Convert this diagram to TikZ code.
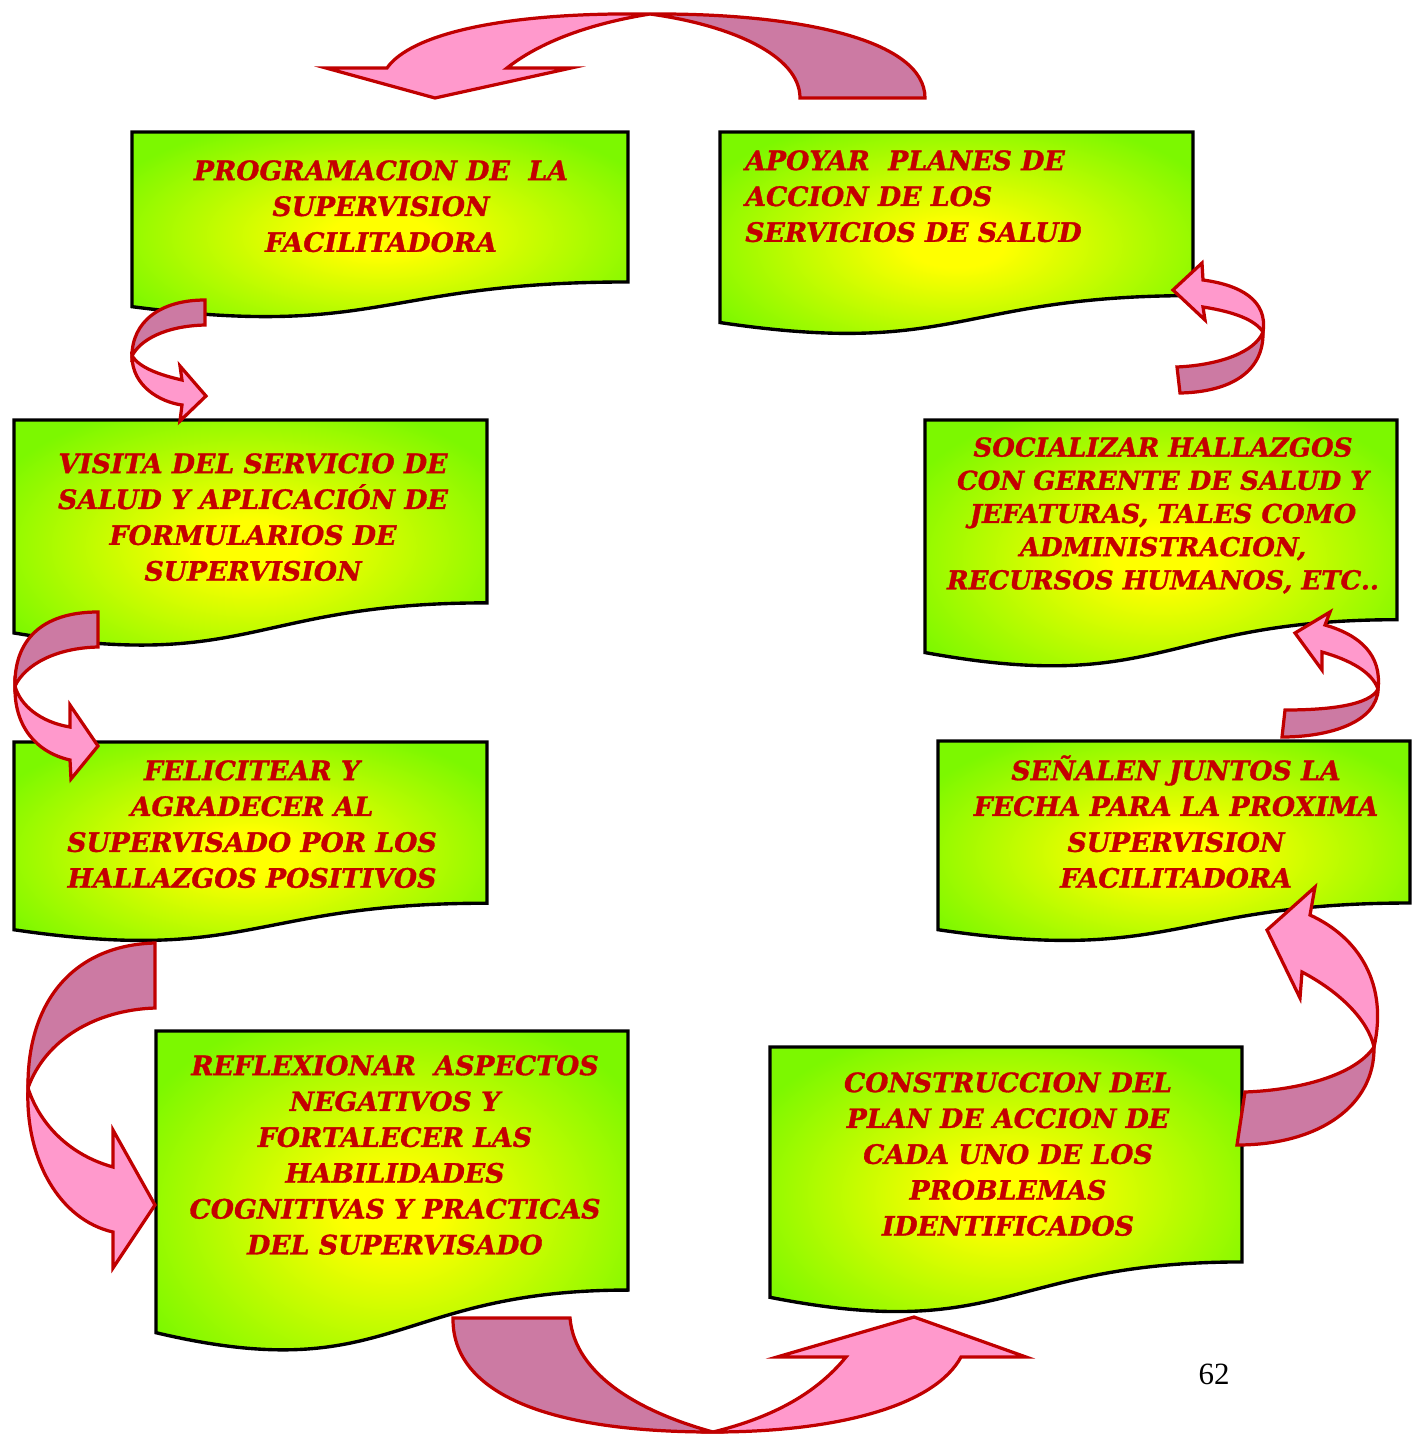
\documentclass[tikz,border=0pt]{standalone}
\usepackage{fontspec}
\newfontfamily\boxfont{DejaVu Serif}[BoldItalicFeatures={FakeBold=1.2}]
\newfontfamily\numfont{Liberation Serif}

\definecolor{docyellow}{RGB}{255,255,0}
\definecolor{docgreen}{RGB}{124,248,0}
\definecolor{textred}{RGB}{196,0,0}
\definecolor{arrowpink}{RGB}{255,153,204}
\definecolor{arrowmauve}{RGB}{204,122,163}
\definecolor{arrowline}{RGB}{192,0,0}

% yellow glow in the middle of each document box, fading to green
\pgfdeclareradialshading{docglow}{\pgfpoint{0bp}{0bp}}{%
  color(0bp)=(docyellow); color(5bp)=(docyellow);
  color(30bp)=(docgreen); color(50bp)=(docgreen)}

\tikzset{
  docbox/.style={draw=black, line width=2.4pt, line join=miter, shade, shading=docglow},
  boxtext/.style={inner sep=0pt, align=center, text=textred,
    font=\boxfont\bfseries\itshape\fontsize{19}{25.5}\selectfont},
  boxtexttight/.style={boxtext, font=\boxfont\bfseries\itshape\fontsize{18.5}{23.6}\selectfont},
  arrowback/.style={draw=arrowline, line width=2.3pt, line join=miter, fill=arrowmauve},
  arrowfront/.style={draw=arrowline, line width=2.3pt, line join=miter, fill=arrowpink},
}

% flowchart "document" shape: left x, top y, width, height
\newcommand\flowdoc[4]{%
  \pgfmathsetmacro\fdR{#1+#3}%
  \pgfmathsetmacro\fdM{#1+0.5*#3}%
  \pgfmathsetmacro\fdA{#2+0.802*#4}%
  \pgfmathsetmacro\fdB{#2+1.107*#4}%
  \pgfmathsetmacro\fdC{#2+0.934*#4}%
  \path[docbox] (#1,#2) -- (\fdR,#2) -- (\fdR,\fdA)
    .. controls (\fdM,\fdA) and (\fdM,\fdB) .. (#1,\fdC) -- cycle;}

\begin{document}
\begin{tikzpicture}[x=0.025cm,y=-0.025cm]
\useasboundingbox (0,0) rectangle (1419,1434);

% ---------- document boxes ----------
\flowdoc{132}{132}{496}{187}
\flowdoc{720}{132}{473}{204}
\flowdoc{14}{420}{473}{228}
\flowdoc{925}{420}{472}{249}
\flowdoc{14}{742}{473}{201}
\flowdoc{938}{741}{472}{202}
\flowdoc{156}{1031}{472}{323}
\flowdoc{770}{1047}{472}{268}

% ---------- box texts ----------
\node[boxtext, anchor=north] (t1) at (381,160)
  {PROGRAMACION DE\ \ LA\\SUPERVISION\\FACILITADORA};
\node[boxtext, align=left, anchor=north west] (t2) at (745,150)
  {APOYAR\ \ PLANES DE\\ACCION DE LOS\\SERVICIOS DE SALUD};
\node[boxtext, anchor=north] (t3) at (253,453)
  {VISITA DEL SERVICIO DE\\SALUD Y APLICACIÓN DE\\FORMULARIOS DE\\SUPERVISION};
\node[boxtexttight, anchor=north] (t4) at (1163,437)
  {SOCIALIZAR HALLAZGOS\\CON GERENTE DE SALUD Y\\JEFATURAS, TALES COMO\\ADMINISTRACION,\\RECURSOS HUMANOS, ETC..};
\node[boxtext, anchor=north] (t5) at (252,760)
  {FELICITEAR Y\\AGRADECER AL\\SUPERVISADO POR LOS\\HALLAZGOS POSITIVOS};
\node[boxtext, anchor=north] (t6) at (1176,755)
  {SEÑALEN JUNTOS LA\\FECHA PARA LA PROXIMA\\SUPERVISION\\FACILITADORA};
\node[boxtext, anchor=north] (t7) at (395,1055)
  {REFLEXIONAR\ \ ASPECTOS\\NEGATIVOS Y\\FORTALECER LAS\\HABILIDADES\\COGNITIVAS Y PRACTICAS\\DEL SUPERVISADO};
\node[boxtext, anchor=north] (t8) at (1008,1072)
  {CONSTRUCCION DEL\\PLAN DE ACCION DE\\CADA UNO DE LOS\\PROBLEMAS\\IDENTIFICADOS};

% ---------- curved arrows ----------
% top: from the action-plan box back to the programming box
\path[arrowback] (800,98) -- (925,98) .. controls (925,40) and (800,13) .. (650,14)
  .. controls (730,25) and (800,55) .. (800,98) -- cycle;
\path[arrowfront] (650,14) .. controls (500,12) and (410,35) .. (387,68)
  -- (326,68) -- (435,98) -- (571,68) -- (507,68)
  .. controls (545,38) and (600,22) .. (650,14) -- cycle;

% programming -> visit
\path[arrowback] (205,325) -- (205,300) .. controls (160,300) and (132,322) .. (132,356)
  .. controls (140,340) and (165,326) .. (205,325) -- cycle;
\path[arrowfront] (132,356) .. controls (132,386) and (160,402) .. (182,405)
  -- (180,421) -- (206,396) -- (180,366) -- (182,380)
  .. controls (160,375) and (140,368) .. (132,356) -- cycle;

% visit -> congratulate
\path[arrowback] (98,647) -- (98,612) .. controls (40,612) and (14,642) .. (15,686)
  .. controls (25,665) and (55,648) .. (98,647) -- cycle;
\path[arrowfront] (15,686) .. controls (14,725) and (35,752) .. (70,760)
  -- (71,779) -- (98,746) -- (70,705) -- (70,727)
  .. controls (40,722) and (20,705) .. (15,686) -- cycle;

% congratulate -> reflect
\path[arrowback] (155,1008) -- (155,943) .. controls (75,945) and (27,1000) .. (28,1088)
  .. controls (45,1040) and (95,1010) .. (155,1008) -- cycle;
\path[arrowfront] (28,1088) .. controls (25,1160) and (60,1220) .. (113,1232)
  -- (113,1268) -- (155,1205) -- (113,1130) -- (113,1167)
  .. controls (70,1155) and (40,1125) .. (28,1088) -- cycle;

% bottom: reflect -> construction
\path[arrowback] (570,1318) -- (453,1318) .. controls (452,1390) and (540,1432) .. (713,1432)
  .. controls (640,1412) and (575,1375) .. (570,1318) -- cycle;
\path[arrowfront] (713,1432) .. controls (840,1432) and (935,1405) .. (961,1357)
  -- (1026,1357) -- (914,1317) -- (777,1357) -- (846,1357)
  .. controls (815,1395) and (770,1418) .. (713,1432) -- cycle;

% construction -> next date
\path[arrowback] (1245,1092) -- (1237,1145) .. controls (1320,1145) and (1375,1105) .. (1374,1047)
  .. controls (1355,1075) and (1300,1090) .. (1245,1092) -- cycle;
\path[arrowfront] (1374,1047) .. controls (1388,985) and (1360,938) .. (1310,915)
  -- (1315,887) -- (1267,930) -- (1300,998) -- (1302,972)
  .. controls (1340,992) and (1368,1020) .. (1374,1047) -- cycle;

% next date -> share findings
\path[arrowback] (1285,710) -- (1282,737) .. controls (1330,737) and (1377,722) .. (1378,689)
  .. controls (1370,705) and (1330,710) .. (1285,710) -- cycle;
\path[arrowfront] (1378,689) .. controls (1382,655) and (1360,635) .. (1325,625)
  -- (1330,612) -- (1295,633) -- (1322,670) -- (1322,652)
  .. controls (1350,660) and (1372,672) .. (1378,689) -- cycle;

% share findings -> action plans
\path[arrowback] (1177,367) -- (1180,393) .. controls (1230,392) and (1264,372) .. (1263,332)
  .. controls (1255,352) and (1220,365) .. (1177,367) -- cycle;
\path[arrowfront] (1263,332) .. controls (1268,300) and (1240,285) .. (1203,280)
  -- (1202,263) -- (1173,290) -- (1205,320) -- (1203,307)
  .. controls (1235,312) and (1255,320) .. (1263,332) -- cycle;

% page number
\node[inner sep=0pt, font=\numfont\fontsize{22}{22}\selectfont] (pagenum) at (1214,1374) {62};
\end{tikzpicture}
\end{document}
